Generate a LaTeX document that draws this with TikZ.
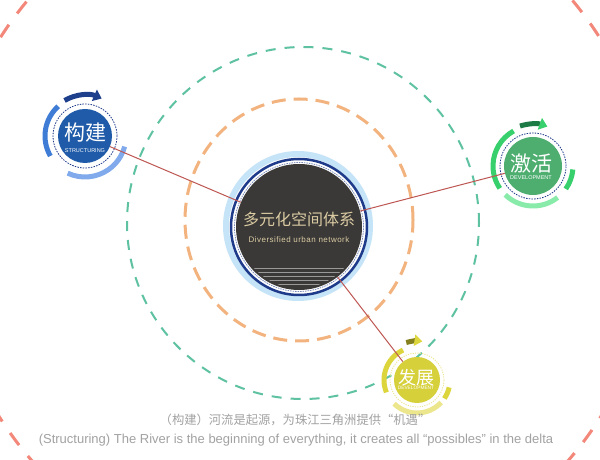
\documentclass[tikz,border=0pt]{standalone}
\usepackage{fontspec}
\setmainfont{Liberation Sans}
\newfontfamily\cjk{Noto Sans CJK SC}
\usetikzlibrary{arrows.meta}

\definecolor{netfill}{HTML}{3A3937}
\definecolor{netnavy}{HTML}{1E3A8A}
\definecolor{netsky}{HTML}{C6E4F7}
\definecolor{nettext}{HTML}{DCCCA4}
\definecolor{linkred}{HTML}{BE5652}
\definecolor{ringred}{HTML}{F2877A}
\definecolor{ringteal}{HTML}{5EC2A2}
\definecolor{ringorange}{HTML}{F2B37E}
\definecolor{bluefill}{HTML}{1F5BA8}
\definecolor{bluemid}{HTML}{3E7CD6}
\definecolor{bluepale}{HTML}{80AAEC}
\definecolor{bluedark}{HTML}{1E3F8C}
\definecolor{greenfill}{HTML}{4DAE70}
\definecolor{greenmid}{HTML}{38D06C}
\definecolor{greenpale}{HTML}{88EBAA}
\definecolor{greendark}{HTML}{1C7A44}
\definecolor{yellowfill}{HTML}{D6D03A}
\definecolor{yellowmid}{HTML}{DDD53C}
\definecolor{yellowpale}{HTML}{ECE68C}
\definecolor{yellowdark}{HTML}{85801E}
\definecolor{captiongray}{HTML}{A2A2A2}

\tikzset{
    hub/.style={circle,inner sep=0pt},
    ringarc/.style={line width=5pt},
    hubtitle/.style={text=white,inner sep=0pt},
    hubsub/.style={text=white,inner sep=0pt},
    link/.style={draw=linkred,line width=1pt},
}

\begin{document}
\begin{tikzpicture}[x=1pt,y=1pt]
    \useasboundingbox (0,0) rectangle (600,460);
    \clip (0,0) rectangle (600,460);
    \fill[white] (0,0) rectangle (600,460);

    % guide rings
    \draw[ringred,line width=3pt,dash pattern=on 15pt off 14pt] (300,232) circle[radius=355];
    \draw[ringteal,line width=2pt,dash pattern=on 10pt off 9pt] (303,237) circle[radius=176];
    \draw[ringorange,line width=3pt,dash pattern=on 14pt off 8pt] (299,240) ellipse[x radius=114,y radius=121];

    % centre circle
    \draw[netsky,line width=6pt] (298,234) circle[radius=72];
    \draw[netnavy,line width=2.5pt] (299,233) circle[radius=68];
    \node[hub,fill=netfill,minimum size=126pt] (net) at (299,233) {};
    \draw[netnavy!60,line width=0.8pt,dash pattern=on 1.5pt off 1pt] (net.center) circle[radius=64.5];
    \begin{scope}
        \clip (net.center) circle[radius=61];
        \draw[gray!80,line width=0.7pt]
            (230,192) -- (370,192) (230,188) -- (370,188) (230,184) -- (370,184)
            (230,180) -- (370,180) (230,176) -- (370,176) (230,172) -- (370,172);
    \end{scope}
    \node[text=nettext,font=\cjk\fontsize{16}{16}\selectfont,inner sep=0pt] (net-title) at (299,241) {多元化空间体系};
    \node[text=nettext,font=\fontsize{8}{8}\selectfont\addfontfeature{LetterSpace=6},inner sep=0pt] (net-sub) at (299,220) {Diversified urban network};

    % structuring
    \node[hub,fill=bluefill,minimum size=54pt] (build) at (85,324) {};
    \draw[netnavy,line width=0.8pt,dash pattern=on 1.5pt off 1.2pt] (build.center) circle[radius=32];
    \draw[bluemid,ringarc] (build.center) ++(132:40) arc[start angle=132,end angle=210,radius=40];
    \draw[bluepale,ringarc] (build.center) ++(245:41) arc[start angle=245,end angle=345,radius=41];
    \draw[bluedark,ringarc,-{Triangle[length=8pt,width=12pt]}] (build.center) ++(120:41) arc[start angle=120,end angle=66,radius=41];
    \node[hubtitle,font=\cjk\fontsize{21}{21}\selectfont] (build-title) at (85,327) {构建};
    \node[hubsub,font=\fontsize{5.5}{5.5}\selectfont] (build-sub) at (85,309) {STRUCTURING};

    % development (green)
    \node[hub,fill=greenfill,minimum size=58pt] (act) at (533,294) {};
    \draw[netnavy,line width=0.8pt,dash pattern=on 1.5pt off 1.2pt] (act.center) circle[radius=33];
    \draw[greenmid,ringarc] (act.center) ++(119:40) arc[start angle=119,end angle=214,radius=40];
    \draw[greenpale,ringarc] (act.center) ++(226:40) arc[start angle=226,end angle=308,radius=40];
    \draw[greenmid,ringarc] (act.center) ++(325:40) arc[start angle=325,end angle=355,radius=40];
    \draw[greendark,ringarc,-{Triangle[length=8pt,width=12pt,color=greenmid]}] (act.center) ++(108:42) arc[start angle=108,end angle=70,radius=42];
    \node[hubtitle,font=\cjk\fontsize{21}{21}\selectfont] (act-title) at (531,296) {激活};
    \node[hubsub,font=\fontsize{5.5}{5.5}\selectfont] (act-sub) at (531,282) {DEVELOPMENT};

    % development (yellow)
    \node[hub,fill=yellowfill,minimum size=46pt] (grow) at (417,80) {};
    \draw[yellowpale,line width=0.8pt,dash pattern=on 1.2pt off 1.2pt] (grow.center) circle[radius=27];
    \draw[yellowmid,ringarc] (grow.center) ++(115:33) arc[start angle=115,end angle=202,radius=33];
    \draw[yellowpale,ringarc] (grow.center) ++(226:33) arc[start angle=226,end angle=317,radius=33];
    \draw[yellowmid,ringarc] (grow.center) ++(326:33) arc[start angle=326,end angle=347,radius=33];
    \draw[yellowdark,line width=5pt,-{Triangle[length=8pt,width=11pt,color=yellowmid]}] (grow.center) ++(106:39) arc[start angle=106,end angle=82,radius=39];
    \node[hubtitle,font=\cjk\fontsize{18}{18}\selectfont] (grow-title) at (416,82) {发展};
    \node[hubsub,font=\fontsize{4.8}{4.8}\selectfont] (grow-sub) at (416,72) {DEVELOPMENT};

    % links
    \path[link] (build) edge (net);
    \path[link] (act) edge (net);
    \path[link] (net) edge (grow);

    % caption
    \node[text=captiongray,font=\cjk\fontsize{12.3}{12.3}\selectfont,inner sep=0pt] (cap-cn) at (295,40) {（构建）河流是起源，为珠江三角洲提供“机遇”};
    \node[text=captiongray,font=\fontsize{13}{13}\selectfont,inner sep=0pt] (cap-en) at (296,20) {(Structuring) The River is the beginning of everything, it creates all “possibles” in the delta};
\end{tikzpicture}
\end{document}
